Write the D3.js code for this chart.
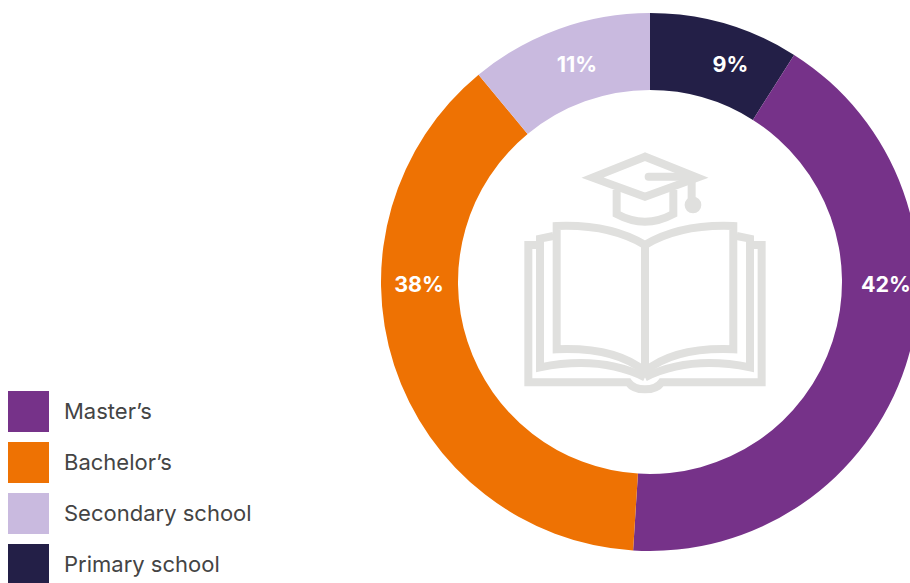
<!DOCTYPE html>
<html>
<head>
<meta charset="utf-8">
<script src="https://cdn.jsdelivr.net/npm/d3@7"></script>
<style>
  html, body { margin: 0; padding: 0; background: #fff; overflow: hidden; }
  svg { display: block; }
</style>
</head>
<body>
<script>
// Highest education level, clockwise from twelve o'clock
const categories = ["Primary school", "Master\u2019s", "Bachelor\u2019s", "Secondary school"];
const shares = [9, 42, 38, 11];
const colors = ["#231F47", "#763289", "#EE7203", "#C9BADF"];
const legendOrder = ["Master\u2019s", "Bachelor\u2019s", "Secondary school", "Primary school"];

const width = 910, height = 583;
const cx = 650, cy = 282, outer = 269, inner = 192;
const fontStack = "Inter, 'Open Sans', sans-serif";
const rad = Math.PI / 180;

const svg = d3.select("body").append("svg").attr("width", width).attr("height", height);

const color = d3.scaleOrdinal().domain(categories).range(colors);
const pie = d3.pie().value((d, i) => shares[i]).sort(null);
const arc = d3.arc().innerRadius(inner).outerRadius(outer);
const slices = pie(categories);

const ring = svg.append("g").attr("transform", `translate(${cx},${cy})`);
ring.selectAll("path").data(slices).join("path")
  .attr("d", arc)
  .attr("fill", d => color(d.data));

// Percent labels stay in the ring band; the two short slices pull toward the top
const labelAngle = [20.3, 90.5, 269.5, 341.5];
const labelRadius = [232, 236, 231, 230];
ring.selectAll("text").data(slices).join("text")
  .attr("x", (d, i) => labelRadius[i] * Math.sin(labelAngle[i] * rad))
  .attr("y", (d, i) => -labelRadius[i] * Math.cos(labelAngle[i] * rad))
  .attr("text-anchor", "middle")
  .attr("dominant-baseline", "central")
  .attr("font-family", fontStack)
  .attr("font-weight", 700)
  .attr("font-size", 21.5)
  .attr("fill", "#fff")
  .text(d => d3.format(".0f")(d.value) + "%");

// Open book and mortarboard emblem in the hole of the ring
const icon = svg.append("g")
  .attr("transform", "translate(510,140) scale(0.3333)")
  .attr("fill", "none")
  .attr("stroke", "#E0E0DE")
  .attr("stroke-width", 24);

const iconStrokes = [
  // mortarboard
  "M405,50 L248,113 L405,170 L562,113 Z",
  "M320,150 V222 Q405,268 490,222 V150",
  "M545,122 V195",
  // top pages
  "M405,315 C330,270 240,254 140,258 V628 C240,624 340,640 405,695",
  "M405,315 C480,270 570,254 670,258 V628 C570,624 470,640 405,695",
  "M405,315 V700",
  // page stack
  "M130,288 L90,296 V682 C200,660 310,665 405,712",
  "M680,288 L720,296 V682 C610,660 500,665 405,712",
  "M80,315 H55 V727 H355 C375,755 435,755 455,727 H755 V315 H730"
];
icon.selectAll("path").data(iconStrokes).join("path")
  .attr("d", d => d);
icon.append("line")
  .attr("x1", 416).attr("y1", 110).attr("x2", 540).attr("y2", 110)
  .attr("stroke-linecap", "round");
icon.append("circle")
  .attr("cx", 549).attr("cy", 195).attr("r", 25)
  .attr("fill", "#E0E0DE").attr("stroke", "none");

// Legend column in the lower left
const legendY = d3.scalePoint().domain(legendOrder).range([391, 544]);
const legend = svg.append("g").selectAll("g").data(legendOrder).join("g")
  .attr("transform", d => `translate(8,${legendY(d)})`);
legend.append("rect")
  .attr("width", 41).attr("height", 41)
  .attr("fill", d => color(d));
legend.append("text")
  .attr("x", 56).attr("y", 19.5)
  .attr("dominant-baseline", "central")
  .attr("font-family", fontStack)
  .attr("font-size", 22)
  .attr("fill", "#444444")
  .text(d => d);
</script>
</body>
</html>
